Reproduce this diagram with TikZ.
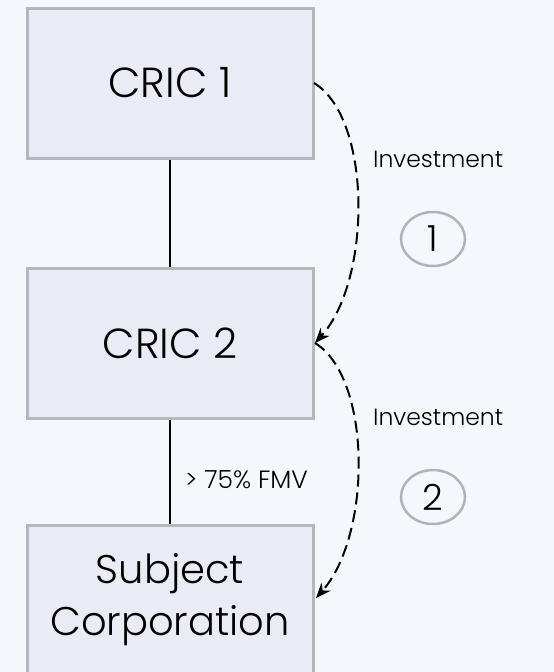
\documentclass[tikz,border=0pt]{standalone}
\usepackage{fontspec}
\setmainfont{Poppins Light}
\usetikzlibrary{arrows.meta,shapes.geometric}
\definecolor{bgcol}{HTML}{F4F7FC}
\definecolor{boxfill}{HTML}{E9ECF4}
\definecolor{boxline}{HTML}{B4B7BE}
\definecolor{ringline}{HTML}{B0B3B9}
\begin{document}
\begin{tikzpicture}[x=1pt,y=-1pt,
  entity/.style={draw=boxline,line width=3pt,fill=boxfill,minimum width=286pt,minimum height=150pt,
    inner sep=0pt,font=\fontsize{42}{52}\selectfont,align=center,text=black},
  link/.style={line width=1.6pt,black},
  invest/.style={line width=2pt,black,dash pattern=on 12pt off 6pt,-{Stealth[length=15pt,width=12pt]}},
  note/.style={font=\fontsize{23.5}{28}\selectfont,inner sep=0pt,text=black},
  stepmark/.style={draw=ringline,line width=2.5pt,ellipse,minimum width=64pt,minimum height=54pt,
    inner sep=0pt,font=\fontsize{36}{40}\selectfont,text=black}]
\fill[bgcol] (0,0) rectangle (554,672);
\useasboundingbox (0,0) rectangle (554,672);

\node[entity] (c1) at (170,83) {CRIC 1};
\node[entity] (c2) at (170,343) {CRIC 2};
\node[entity,font=\fontsize{40}{52}\selectfont] (sc) at (170,600) {Subject\\Corporation};

\draw[link] (c1.south) -- (c2.north);
\draw[link] (c2.south) -- (sc.north);
\node[note,anchor=base west,font=\fontsize{25}{28}\selectfont] (fmv) at (185,488) {> 75\% FMV};

\coordinate (a1s) at (314,83);
\coordinate (a1e) at (315,343);
\coordinate (a2e) at (316,598);
\draw[invest] (a1s) .. controls (372,118) and (372,280) .. (a1e);
\draw[invest] (a1e) .. controls (372,378) and (372,535) .. (a2e);

\node[note,anchor=base west] (inv1) at (373,167) {Investment};
\node[note,anchor=base west] (inv2) at (373,425) {Investment};
\node[stepmark] (s1) at (433,239) {1};
\node[stepmark] (s2) at (433,497) {2};
\end{tikzpicture}
\end{document}
